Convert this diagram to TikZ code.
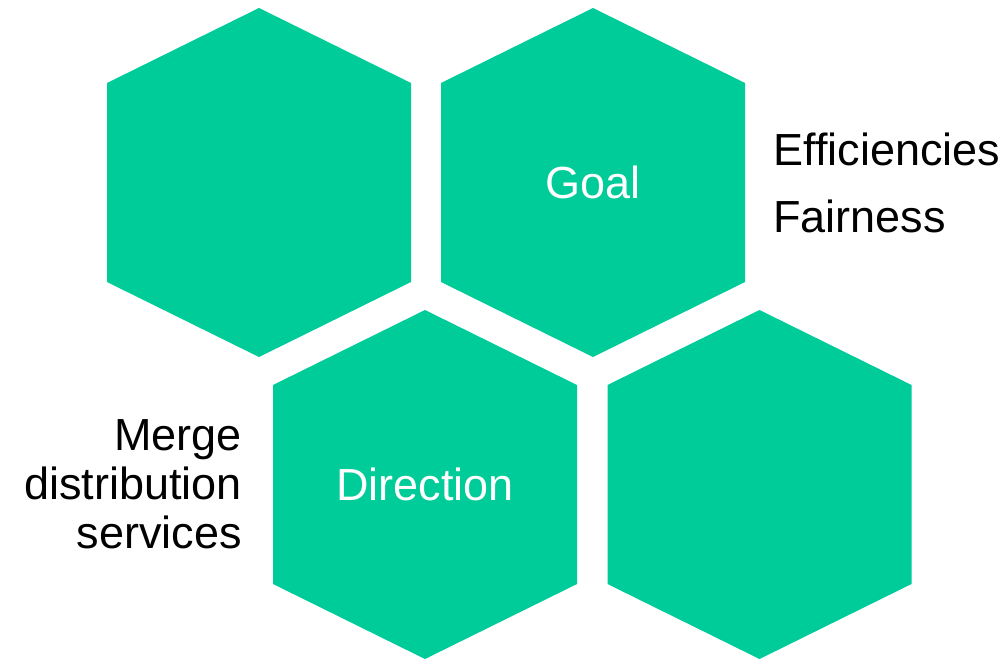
\documentclass[tikz,border=0pt]{standalone}
\usepackage{fontspec}
\setmainfont{Liberation Sans}
\usepackage{xcolor}
\usepackage{tikz}
\usetikzlibrary{positioning}

\definecolor{hexgreen}{RGB}{0,204,153}

\begin{document}
\begin{tikzpicture}[
        every node/.style={font=\fontsize{25.6}{28}\selectfont},
        hexfill/.style={fill=hexgreen},
        hexlabel/.style={text=white, inner sep=0pt},
        sidetext/.style={text=black, inner sep=0pt}
    ]

    \useasboundingbox (0,0) rectangle (20.16,13.18);

    % Hexagon centres
    \coordinate (h1) at (5.18, 9.53);
    \coordinate (h2) at (11.86, 9.53);
    \coordinate (h3) at (8.50, 3.49);
    \coordinate (h4) at (15.19, 3.49);

    % Hexagons
    \foreach \h in {h1, h2, h3, h4}
        \fill[hexfill] (\h) ++(0,3.49) -- ++(3.04,-1.5) -- ++(0,-3.98)
            -- ++(-3.04,-1.5) -- ++(-3.04,1.5) -- ++(0,3.98) -- cycle;

    % Labels inside
    \node[hexlabel] (goal) at (h2) {Goal};
    \node[hexlabel] (direction) at (h3) {Direction};

    % Side texts
    \node[sidetext, anchor=base west] (eff) at (15.46, 9.88) {Efficiencies};
    \node[sidetext, anchor=base west] (fair) at ([yshift=-1.34cm]eff.base west) {Fairness};
    \node[sidetext, align=right, anchor=east] (merge) at ([xshift=-3.66cm]h3) {Merge\\distribution\\services};

\end{tikzpicture}
\end{document}
